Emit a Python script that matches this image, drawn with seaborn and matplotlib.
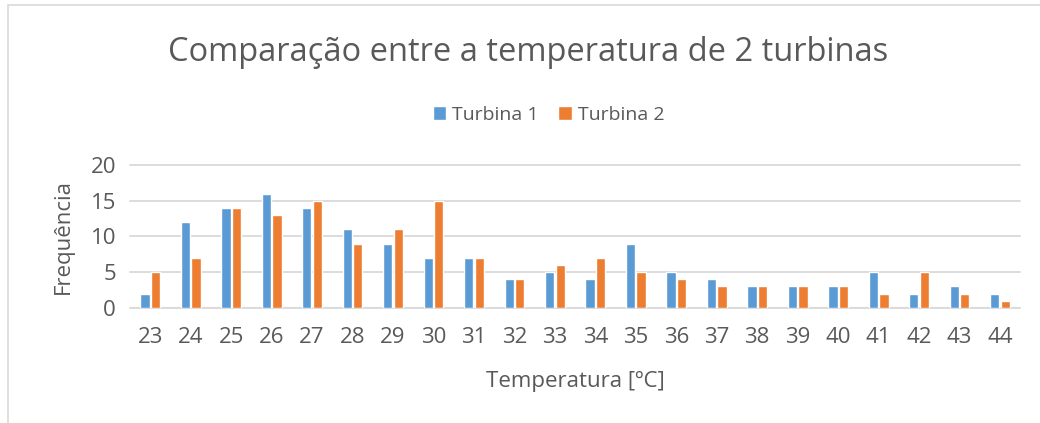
import matplotlib
matplotlib.use("Agg")
from matplotlib import pyplot as plt
from matplotlib.patches import Rectangle
import pandas as pd
import seaborn as sns

temperaturas = [23, 24, 25, 26, 27, 28, 29, 30, 31, 32, 33, 34, 35, 36, 37, 38, 39, 40, 41, 42, 43, 44]
turbina_1 = [2, 12, 14, 16, 14, 11, 9, 7, 7, 4, 5, 4, 9, 5, 4, 3, 3, 3, 5, 2, 3, 2]
turbina_2 = [5, 7, 14, 13, 15, 9, 11, 15, 7, 4, 6, 7, 5, 4, 3, 3, 3, 3, 2, 5, 2, 1]
series = ["Turbina 1", "Turbina 2"]
yticks = [0, 5, 10, 15, 20]

# long format table for seaborn
df = pd.DataFrame({
    "temp": [str(t) for t in temperaturas] * 2,
    "freq": turbina_1 + turbina_2,
    "serie": [series[0]] * len(temperaturas) + [series[1]] * len(temperaturas),
})

sns.set_theme(style="white")
plt.rcParams["font.family"] = ["Open Sans", "DejaVu Sans"]
txt = "#595959"

fig = plt.figure(figsize=(10.4, 4.23), dpi=100)
ax = fig.add_axes([0.125, 0.272, 0.856, 0.338])

sns.barplot(data=df, x="temp", y="freq", hue="serie",
            order=[str(t) for t in temperaturas],
            palette=["#5B9BD5", "#ED7D31"], width=0.52, gap=0.12,
            saturation=1, ax=ax, legend=True)

ax.set_ylim(0, 20)
ax.set_xlim(-0.5, len(temperaturas) - 0.5)
ax.set_yticks(yticks)
ax.yaxis.grid(True, color="#D9D9D9", linewidth=1.3, clip_on=False)
ax.set_axisbelow(True)
for s in ax.spines.values():
    s.set_visible(False)
ax.axhline(0, color="#D9D9D9", linewidth=1.5, zorder=0.5)
ax.tick_params(axis="both", length=0, labelsize=16, labelcolor=txt, pad=10)
ax.tick_params(axis="x", pad=14)

ax.set_xlabel("Temperatura [ºC]", fontsize=16, color=txt, labelpad=16)
ax.set_ylabel("Frequência", fontsize=16, color=txt, labelpad=12)

ax.legend(loc="center", bbox_to_anchor=(0.47, 1.35), ncol=2, frameon=False,
          fontsize=14, labelcolor=txt, handlelength=0.7, handleheight=0.7,
          handletextpad=0.3, columnspacing=1.0)

fig.text(0.508, 0.875, "Comparação entre a temperatura de 2 turbinas",
         ha="center", va="center", fontsize=23.5, color=txt)

fig.patches.append(Rectangle((0.008, -0.02), 1.1, 1.008, transform=fig.transFigure,
                             fill=False, edgecolor="#D9D9D9", linewidth=1.2))

fig.savefig("out.png", dpi=100)
